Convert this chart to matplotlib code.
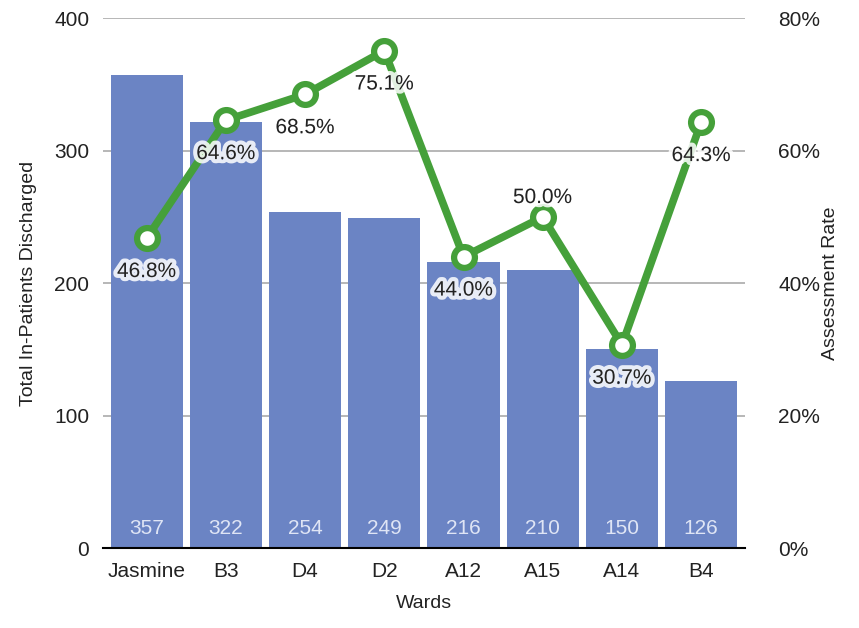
import numpy as np
import matplotlib.pyplot as plt
import matplotlib.patheffects as pe

plt.rcParams['font.family'] = ['Liberation Sans', 'DejaVu Sans']

# data
wards = ['Jasmine', 'B3', 'D4', 'D2', 'A12', 'A15', 'A14', 'B4']
discharged = [357, 322, 254, 249, 216, 210, 150, 126]
rate = [46.8, 64.6, 68.5, 75.1, 44.0, 50.0, 30.7, 64.3]
# label below (-1) or above (+1) the point
label_side = [-1, -1, -1, -1, -1, 1, -1, -1]

bar_col = '#6b84c4'
line_col = '#45a03a'

fig = plt.figure(figsize=(8.59, 6.28), dpi=100)
ax = fig.add_axes([0.12, 0.127, 0.747, 0.844])
x = np.arange(len(wards))

ax.set_axisbelow(True)
ax.yaxis.grid(True, color='#aaaaaa', linewidth=1.2)
ax.bar(x, discharged, width=0.91, color=bar_col, zorder=2)
for xi, v in zip(x, discharged):
    ax.text(xi, 8, str(v), ha='center', va='bottom', color='#dfe5f5', fontsize=15, zorder=3)

ax.set_xlim(-0.55, len(wards) - 0.45)
ax.set_ylim(0, 400)
ax.set_yticks([0, 100, 200, 300, 400])
ax.set_xticks(x)
ax.set_xticklabels(wards)
ax.tick_params(axis='both', length=0, labelsize=15, colors='#222222', pad=10)
for s in ['top', 'right', 'left']:
    ax.spines[s].set_visible(False)
ax.spines['bottom'].set_color('black')
ax.spines['bottom'].set_linewidth(1.5)
ax.set_xlabel('Wards', fontsize=14, color='#222222', labelpad=10)
ax.set_ylabel('Total In-Patients Discharged', fontsize=14, color='#222222', labelpad=12)

ax2 = ax.twinx()
ax2.set_ylim(0, 80)
ax2.set_yticks([0, 20, 40, 60, 80])
ax2.set_yticklabels(['0%', '20%', '40%', '60%', '80%'])
ax2.tick_params(axis='y', length=0, labelsize=15, colors='#222222', pad=24)
for s in ax2.spines.values():
    s.set_visible(False)
ax2.set_ylabel('Assessment Rate', fontsize=14, color='#222222')
ax2.yaxis.set_label_coords(1.12, 0.5)

ax2.plot(x, rate, color=line_col, linewidth=5.5, marker='o', markersize=15,
         markerfacecolor='white', markeredgecolor=line_col, markeredgewidth=4.5, zorder=4)
glow = [pe.withStroke(linewidth=6, foreground='white', alpha=0.85)]
for xi, r, side in zip(x, rate, label_side):
    off = 24 if side < 0 else 14
    ax2.annotate(f'{r:.1f}%', (xi, r), xytext=(0, off * side), textcoords='offset points',
                 ha='center', va='center', fontsize=15, color='#222222',
                 path_effects=glow, zorder=5)

plt.savefig('out.png', dpi=100)
